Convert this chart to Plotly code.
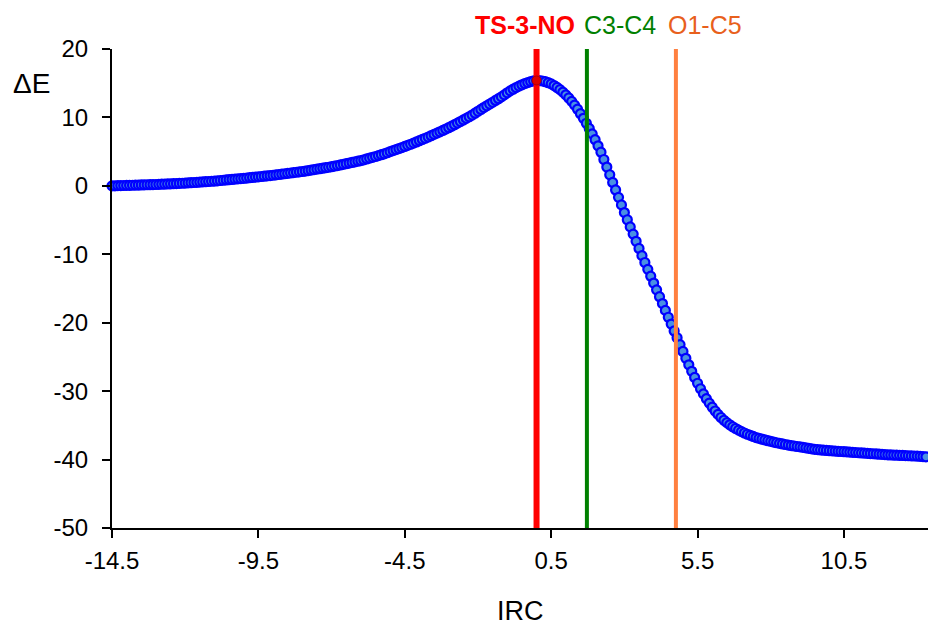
import plotly.graph_objects as go

# IRC coordinate of each computed point
irc = [
    -14.5, -14.4, -14.3, -14.2, -14.1, -14.0,
    -13.9, -13.8, -13.7, -13.6, -13.5, -13.4, -13.3, -13.2, -13.1, -13.0,
    -12.9, -12.8, -12.7, -12.6, -12.5, -12.4, -12.3, -12.2, -12.1, -12.0,
    -11.9, -11.8, -11.7, -11.6, -11.5, -11.4, -11.3, -11.2, -11.1, -11.0,
    -10.9, -10.8, -10.7, -10.6, -10.5, -10.4, -10.3, -10.2, -10.1, -10.0,
    -9.9, -9.8, -9.7, -9.6, -9.5, -9.4, -9.3, -9.2, -9.1, -9.0,
    -8.9, -8.8, -8.7, -8.6, -8.5, -8.4, -8.3, -8.2, -8.1, -8.0,
    -7.9, -7.8, -7.7, -7.6, -7.5, -7.4, -7.3, -7.2, -7.1, -7.0,
    -6.9, -6.8, -6.7, -6.6, -6.5, -6.4, -6.3, -6.2, -6.1, -6.0,
    -5.9, -5.8, -5.7, -5.6, -5.5, -5.4, -5.3, -5.2, -5.1, -5.0,
    -4.9, -4.8, -4.7, -4.6, -4.5, -4.4, -4.3, -4.2, -4.1, -4.0,
    -3.9, -3.8, -3.7, -3.6, -3.5, -3.4, -3.3, -3.2, -3.1, -3.0,
    -2.9, -2.8, -2.7, -2.6, -2.5, -2.4, -2.3, -2.2, -2.1, -2.0,
    -1.9, -1.8, -1.7, -1.6, -1.5, -1.4, -1.3, -1.2, -1.1, -1.0,
    -0.9, -0.8, -0.7, -0.6, -0.5, -0.4, -0.3, -0.2, -0.1, 0.0,
    0.1, 0.2, 0.3, 0.4, 0.5, 0.6, 0.7, 0.8, 0.9, 1.0,
    1.1, 1.2, 1.3, 1.4, 1.5, 1.6, 1.7, 1.8, 1.9, 2.0,
    2.1, 2.2, 2.3, 2.4, 2.5, 2.6, 2.7, 2.8, 2.9, 3.0,
    3.1, 3.2, 3.3, 3.4, 3.5, 3.6, 3.7, 3.8, 3.9, 4.0,
    4.1, 4.2, 4.3, 4.4, 4.5, 4.6, 4.7, 4.8, 4.9, 5.0,
    5.1, 5.2, 5.3, 5.4, 5.5, 5.6, 5.7, 5.8, 5.9, 6.0,
    6.1, 6.2, 6.3, 6.4, 6.5, 6.6, 6.7, 6.8, 6.9, 7.0,
    7.1, 7.2, 7.3, 7.4, 7.5, 7.6, 7.7, 7.8, 7.9, 8.0,
    8.1, 8.2, 8.3, 8.4, 8.5, 8.6, 8.7, 8.8, 8.9, 9.0,
    9.1, 9.2, 9.3, 9.4, 9.5, 9.6, 9.7, 9.8, 9.9, 10.0,
    10.1, 10.2, 10.3, 10.4, 10.5, 10.6, 10.7, 10.8, 10.9, 11.0,
    11.1, 11.2, 11.3, 11.4, 11.5, 11.6, 11.7, 11.8, 11.9, 12.0,
    12.1, 12.2, 12.3, 12.4, 12.5, 12.6, 12.7, 12.8, 12.9, 13.0,
    13.1, 13.2, 13.3,
]

# relative energy (Delta E) at each IRC point
delta_e = [
    0.00, 0.01, 0.03, 0.04, 0.05, 0.07,
    0.08, 0.09, 0.11, 0.12, 0.13, 0.14, 0.16, 0.17, 0.19, 0.20,
    0.22, 0.24, 0.26, 0.28, 0.30, 0.32, 0.34, 0.36, 0.38, 0.40,
    0.43, 0.46, 0.49, 0.52, 0.55, 0.58, 0.61, 0.64, 0.67, 0.70,
    0.74, 0.78, 0.82, 0.86, 0.90, 0.94, 0.98, 1.02, 1.06, 1.10,
    1.14, 1.19, 1.23, 1.28, 1.32, 1.37, 1.41, 1.46, 1.50, 1.55,
    1.60, 1.66, 1.71, 1.77, 1.82, 1.88, 1.93, 1.99, 2.04, 2.10,
    2.16, 2.23, 2.30, 2.37, 2.44, 2.51, 2.58, 2.65, 2.72, 2.80,
    2.88, 2.97, 3.06, 3.15, 3.24, 3.33, 3.42, 3.51, 3.60, 3.70,
    3.81, 3.93, 4.05, 4.17, 4.29, 4.42, 4.55, 4.68, 4.84, 5.00,
    5.15, 5.30, 5.45, 5.60, 5.76, 5.92, 6.08, 6.24, 6.42, 6.60,
    6.78, 6.96, 7.14, 7.33, 7.52, 7.71, 7.90, 8.10, 8.30, 8.50,
    8.72, 8.94, 9.17, 9.40, 9.63, 9.86, 10.10, 10.35, 10.62, 10.90,
    11.17, 11.44, 11.70, 11.96, 12.22, 12.48, 12.74, 13.00, 13.30, 13.60,
    13.88, 14.13, 14.36, 14.57, 14.77, 14.95, 15.10, 15.23, 15.33, 15.40,
    15.38, 15.32, 15.22, 15.08, 14.90, 14.66, 14.38, 14.06, 13.70, 13.30,
    12.85, 12.35, 11.80, 11.20, 10.55, 9.87, 9.15, 8.40, 7.60, 6.75,
    5.85, 4.92, 3.85, 2.75, 1.62, 0.50, -0.60, -1.68, -2.78, -3.90,
    -4.95, -6.00, -7.05, -8.10, -9.15, -10.20, -11.20, -12.20, -13.20, -14.20,
    -15.20, -16.20, -17.20, -18.20, -19.20, -20.20, -21.20, -22.20, -23.20, -24.20,
    -25.20, -26.15, -27.10, -28.00, -28.85, -29.65, -30.40, -31.10, -31.75, -32.35,
    -32.90, -33.40, -33.85, -34.25, -34.60, -34.92, -35.20, -35.46, -35.70, -35.92,
    -36.12, -36.30, -36.46, -36.62, -36.78, -36.90, -37.02, -37.13, -37.24, -37.34,
    -37.44, -37.54, -37.63, -37.72, -37.80, -37.88, -37.95, -38.02, -38.09, -38.15,
    -38.22, -38.29, -38.36, -38.43, -38.50, -38.55, -38.59, -38.63, -38.67, -38.70,
    -38.73, -38.76, -38.79, -38.82, -38.85, -38.88, -38.91, -38.94, -38.97, -39.00,
    -39.03, -39.06, -39.09, -39.12, -39.15, -39.18, -39.21, -39.24, -39.27, -39.30,
    -39.32, -39.34, -39.36, -39.38, -39.40, -39.42, -39.44, -39.46, -39.48, -39.50,
    -39.53, -39.56, -39.60,
]

# transition state point
ts_irc = [0.0]
ts_energy = [15.40]

# marker lines (events along the IRC)
event_labels = ["TS-3-NO", "C3-C4", "O1-C5"]
event_irc = [0.0, 1.72, 4.76]
event_line_colors = ["#FF0000", "#008000", "#FF8040"]
event_text_colors = ["#FF0000", "#008000", "#E8601C"]
event_line_widths = [6, 4, 4]
event_label_irc = [-0.4, 2.85, 5.75]
event_label_bold = [True, False, False]

x_tickvals = [-14.5, -9.5, -4.5, 0.5, 5.5, 10.5]
x_ticktext = ["-14.5", "-9.5", "-4.5", "0.5", "5.5", "10.5"]
y_tickvals = [-50, -40, -30, -20, -10, 0, 10, 20]
y_ticktext = ["-50", "-40", "-30", "-20", "-10", "0", "10", "20"]
x_range = [-14.5, 13.37]
y_range = [-50, 20]

FONT = "Liberation Sans, Arial, sans-serif"

fig = go.Figure()

fig.add_trace(go.Scatter(
    x=irc, y=delta_e, mode="markers", cliponaxis=False,
    marker=dict(symbol="circle", size=9, color="#4A90E2",
                line=dict(color="#0000FF", width=2.2)),
    showlegend=False, hoverinfo="x+y",
))

for xv, col, w in zip(event_irc, event_line_colors, event_line_widths):
    fig.add_trace(go.Scatter(
        x=[xv, xv], y=y_range, mode="lines",
        line=dict(color=col, width=w), showlegend=False, hoverinfo="skip",
    ))

fig.add_trace(go.Scatter(
    x=ts_irc, y=ts_energy, mode="markers",
    marker=dict(size=9, color="#E00000", line=dict(color="#B00000", width=1)),
    showlegend=False,
))

annotations = []
for lab, lx, tc, bold in zip(event_labels, event_label_irc, event_text_colors, event_label_bold):
    annotations.append(dict(
        x=lx, y=1, xref="x", yref="paper", yshift=24, text=f"<b>{lab}</b>" if bold else lab,
        showarrow=False, xanchor="center", yanchor="middle",
        font=dict(family=FONT, size=25, color=tc),
    ))

annotations.append(dict(
    x=0, y=1, xref="paper", yref="paper", xshift=-81, yshift=-34,
    text="ΔE", showarrow=False, xanchor="center", yanchor="middle",
    font=dict(family=FONT, size=28, color="black"),
))
annotations.append(dict(
    x=0.5, y=0, xref="paper", yref="paper", yshift=-83,
    text="IRC", showarrow=False, xanchor="center", yanchor="middle",
    font=dict(family=FONT, size=27, color="black"),
))

fig.update_layout(
    width=928, height=626,
    margin=dict(l=112, r=0, t=49, b=98, autoexpand=False),
    paper_bgcolor="white", plot_bgcolor="white",
    font=dict(family=FONT, size=24, color="black"),
    annotations=annotations,
    xaxis=dict(
        range=x_range, tickvals=x_tickvals, ticktext=x_ticktext,
        showgrid=False, zeroline=False, automargin=False,
        showline=True, linecolor="black", linewidth=2,
        ticks="outside", ticklen=8, tickwidth=2, tickcolor="black",
        tickfont=dict(family=FONT, size=24),
        ticklabelstandoff=2,
    ),
    yaxis=dict(
        range=y_range, tickvals=y_tickvals, ticktext=y_ticktext,
        showgrid=False, zeroline=False, automargin=False,
        showline=True, linecolor="black", linewidth=2,
        ticks="outside", ticklen=8, tickwidth=2, tickcolor="black",
        tickfont=dict(family=FONT, size=24),
        ticklabelstandoff=9,
    ),
)

# remove the browser's default page margin so the 928x626 figure fills the window exactly
fig.write_html(
    "out.html",
    config={"displayModeBar": False},
    post_script="document.body.style.margin='0';document.body.style.overflow='hidden';",
)
